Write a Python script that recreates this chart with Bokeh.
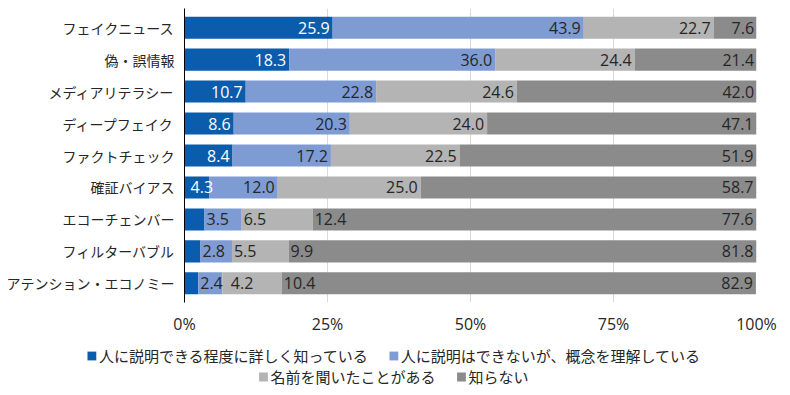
from bokeh.plotting import figure
from bokeh.layouts import column
from bokeh.models import Range1d, FixedTicker, Legend, LegendItem, ColumnDataSource
from bokeh.core.properties import value
from bokeh.embed import file_html
from bokeh.resources import INLINE

categories = ["フェイクニュース", "偽・誤情報", "メディアリテラシー", "ディープフェイク",
              "ファクトチェック", "確証バイアス", "エコーチェンバー", "フィルターバブル",
              "アテンション・エコノミー"]
series_names = ["人に説明できる程度に詳しく知っている",
                "人に説明はできないが、概念を理解している",
                "名前を聞いたことがある", "知らない"]
detail = [25.9, 18.3, 10.7, 8.6, 8.4, 4.3, 3.5, 2.8, 2.4]
understand = [43.9, 36.0, 22.8, 20.3, 17.2, 12.0, 6.5, 5.5, 4.2]
heard = [22.7, 24.4, 24.6, 24.0, 22.5, 25.0, 12.4, 9.9, 10.4]
unknown = [7.6, 21.4, 42.0, 47.1, 51.9, 58.7, 77.6, 81.8, 82.9]
x_ticks = [0, 25, 50, 75, 100]
x_tick_labels = ["0%", "25%", "50%", "75%", "100%"]

colors = ["#0B5CAD", "#7F9BD4", "#B4B4B4", "#8B8B8B"]
JP = "Noto Sans CJK JP"
NUM = "Open Sans"
TXT = "#262626"
NUM_SIZE = 16

FRAME_W = 572
LEFT = 184
RIGHT = 30
series = [detail, understand, heard, unknown]
rows = list(range(len(categories)))

p = figure(frame_width=FRAME_W, frame_height=294, min_border_left=LEFT, min_border_right=RIGHT,
           min_border_top=8, min_border_bottom=36,
           x_range=Range1d(0, 100), y_range=Range1d(len(categories) - 0.4, -0.6),
           output_backend="svg", toolbar_location=None, tools="")
p.outline_line_color = None
p.background_fill_color = "white"

px_per_unit = FRAME_W / 100.0


def text_w(s):
    # rough width estimate of a numeric label in px
    return sum(0.27 if ch == "." else 0.572 for ch in s) * NUM_SIZE


lefts = [0.0] * len(categories)
groups = {"in_white": dict(x=[], y=[], t=[], dx=[]),
          "in_dark": dict(x=[], y=[], t=[], dx=[]),
          "out_dark": dict(x=[], y=[], t=[], dx=[])}
prev_end = [None] * len(categories)
for j, vals in enumerate(series):
    left = list(lefts)
    right = [l + v for l, v in zip(left, vals)]
    src = ColumnDataSource(dict(y=rows, left=left, right=right))
    p.hbar(y="y", left="left", right="right", height=0.69, fill_color=colors[j],
           line_color=None, source=src)
    for i in rows:
        t = f"{vals[i]:.1f}"
        compact = detail[i] < 4 and j < 3
        if compact:
            seg_end_px = right[i] * px_per_unit
            start = seg_end_px + 2
            if prev_end[i] is not None:
                start = max(start, prev_end[i] + 8)
            prev_end[i] = start + text_w(t)
            g = "out_dark"
            dx = start - seg_end_px
        else:
            g = "in_white" if j == 0 else "in_dark"
            seg_px = vals[i] * px_per_unit
            dx = -3 if seg_px >= text_w(t) + 6 else 4
        groups[g]["x"].append(right[i])
        groups[g]["y"].append(i)
        groups[g]["t"].append(t)
        groups[g]["dx"].append(dx)
    lefts = right

for g, d in groups.items():
    src = ColumnDataSource(d)
    p.text(x="x", y="y", text="t", source=src,
           text_align="left" if g == "out_dark" else "right", text_baseline="middle",
           x_offset="dx", text_font=value(NUM), text_font_size=f"{NUM_SIZE}px",
           text_color="white" if g == "in_white" else TXT)

# grid
p.ygrid.grid_line_color = None
p.xgrid.ticker = FixedTicker(ticks=x_ticks)
p.xgrid.grid_line_color = "#D9D9D9"
p.xgrid.grid_line_width = 1

# y axis
p.yaxis.ticker = FixedTicker(ticks=rows)
p.yaxis.major_label_overrides = {i: c for i, c in zip(rows, categories)}
p.yaxis.major_label_text_font = JP
p.yaxis.major_label_text_font_size = "14px"
p.yaxis.major_label_text_color = TXT
p.yaxis.axis_line_color = "black"
p.yaxis.axis_line_width = 1
p.yaxis.major_tick_line_color = None
p.yaxis.minor_tick_line_color = None
p.yaxis.major_tick_out = 0
p.yaxis.major_label_standoff = 10

# x axis
p.xaxis.ticker = FixedTicker(ticks=x_ticks)
p.xaxis.major_label_overrides = {t: l for t, l in zip(x_ticks, x_tick_labels)}
p.xaxis.major_label_text_font = NUM
p.xaxis.major_label_text_font_size = "16px"
p.xaxis.major_label_text_color = TXT
p.xaxis.axis_line_color = None
p.xaxis.major_tick_line_color = None
p.xaxis.minor_tick_line_color = None
p.xaxis.major_tick_out = 0
p.xaxis.major_label_standoff = 10

# legend panel (a separate, non-aligned strip below the chart)
total_w = LEFT + FRAME_W + RIGHT
q = figure(width=total_w, height=50, min_border=0, x_range=Range1d(0, 1), y_range=Range1d(0, 1),
           x_axis_type=None, y_axis_type=None, output_backend="svg", toolbar_location=None,
           tools="")
q.frame_align = False
q.outline_line_color = None
q.xgrid.grid_line_color = None
q.ygrid.grid_line_color = None
# legend swatches: one bar per series kept outside the visible range of this strip
swatch_src = ColumnDataSource(dict(y=[-5], left=[0], right=[1]))
dummies = [q.hbar(y="y", left="left", right="right", height=1, fill_color=c, line_color=None,
                  source=swatch_src) for c in colors]
items = [LegendItem(label=n, renderers=[r]) for n, r in zip(series_names, dummies)]
for chunk, m in ((items[:2], 7), (items[2:], 28)):
    lg = Legend(items=chunk, orientation="horizontal", location="top_center",
                border_line_color=None, background_fill_alpha=0,
                label_text_font=JP, label_text_font_size="15px", label_text_color=TXT,
                glyph_width=11, glyph_height=11, label_standoff=2, spacing=20,
                padding=0, margin=m, label_height=20)
    q.add_layout(lg, "center")

layout = column(p, q, spacing=0)
open("out.html", "w").write(file_html(layout, INLINE))
